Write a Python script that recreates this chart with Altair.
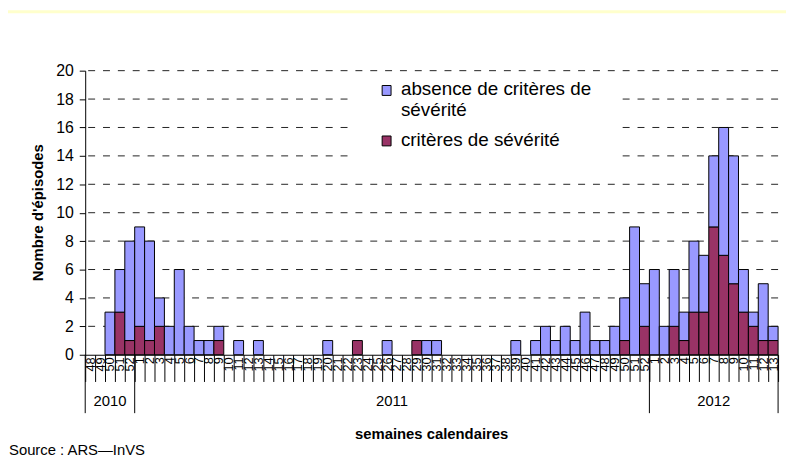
import altair as alt
import pandas as pd

# ---------------- data ----------------
weeks_2010 = [48, 49, 50, 51, 52]
weeks_2011 = list(range(1, 53))
weeks_2012 = list(range(1, 14))

severe_2010 = [0, 0, 0, 3, 1]
nonsevere_2010 = [0, 0, 3, 3, 7]

severe_2011 = [2, 1, 2, 0, 0, 0, 0, 0, 1, 0,
               0, 0, 0, 0, 0, 0, 0, 0, 0, 0,
               0, 0, 1, 0, 0, 0, 0, 0, 1, 0,
               0, 0, 0, 0, 0, 0, 0, 0, 0, 0,
               0, 0, 0, 0, 0, 0, 0, 0, 0, 1,
               0, 2]
nonsevere_2011 = [7, 7, 2, 2, 6, 2, 1, 1, 1, 0,
                  1, 0, 1, 0, 0, 0, 0, 0, 0, 1,
                  0, 0, 0, 0, 0, 1, 0, 0, 0, 1,
                  1, 0, 0, 0, 0, 0, 0, 0, 1, 0,
                  1, 2, 1, 2, 1, 3, 1, 1, 2, 3,
                  9, 3]

severe_2012 = [0, 0, 2, 1, 3, 3, 9, 7, 5, 3, 2, 1, 1]
nonsevere_2012 = [6, 2, 4, 2, 5, 4, 5, 9, 9, 3, 1, 4, 1]

series_names = ["absence de critères de sévérité", "critères de sévérité"]
series_colors = ["#9999FF", "#993366"]
y_ticks = [0, 2, 4, 6, 8, 10, 12, 14, 16, 18, 20]
year_labels = ["2010", "2011", "2012"]
x_title = "semaines calendaires"
y_title = "Nombre d'épisodes"
source_text = "Source : ARS\u2014InVS"

# ---------------- build table ----------------
groups = [
    (2010, weeks_2010, severe_2010, nonsevere_2010),
    (2011, weeks_2011, severe_2011, nonsevere_2011),
    (2012, weeks_2012, severe_2012, nonsevere_2012),
]
keys = []
rows = []
year_first = []
for year, weeks, sev, non in groups:
    year_first.append(f"{year}-{weeks[0]}")
    for w, s, n in zip(weeks, sev, non):
        k = f"{year}-{w}"
        keys.append(k)
        rows.append({"key": k, "series": series_names[1], "value": s, "ord": 0})
        rows.append({"key": k, "series": series_names[0], "value": n, "ord": 1})
df = pd.DataFrame(rows)
last_key = keys[-1]

W, H = 700, 287
FONT = "Liberation Sans"

xscale = alt.Scale(domain=keys, paddingInner=0, paddingOuter=0)
yscale = alt.Scale(domain=[0, 20], nice=False)
cscale = alt.Scale(domain=series_names, range=series_colors)

xaxis = alt.Axis(
    title=None, labelExpr="split(datum.value, '-')[1]", labelAngle=270,
    labelFontSize=13, labelFont=FONT, labelColor="black",
    tickBand="extent", tickSize=27, tickColor="black", domainColor="black",
    labelPadding=-25, labelOverlap=False, grid=False, zindex=1,
)
yaxis = alt.Axis(
    values=y_ticks, title=None, labelFontSize=16, labelFont=FONT,
    labelColor="black", tickSize=6, labelPadding=6, tickColor="black",
    domainColor="black", grid=False, zindex=1,
)

one = pd.DataFrame({"a": [0]})

strip = alt.Chart(one).mark_rect(color="#FFFFCC").encode(
    x=alt.value(-78), x2=alt.value(W + 8), y=alt.value(-61), y2=alt.value(-58)
)

grid = alt.Chart(pd.DataFrame({"value": y_ticks[1:]})).mark_rule(
    color="#222222", strokeDash=[7, 8], strokeWidth=1
).encode(y=alt.Y("value:Q", scale=yscale, axis=yaxis))

bars = alt.Chart(df).transform_filter("datum.value > 0").mark_bar().encode(
    x=alt.X("key:N", scale=xscale, axis=xaxis),
    y=alt.Y("value:Q", stack="zero", scale=yscale, axis=yaxis),
    color=alt.Color("series:N", scale=cscale, legend=None),
    stroke=alt.value("black"),
    strokeWidth=alt.value(1),
    order=alt.Order("ord:Q"),
)

# ---------------- legend ----------------
leg_box = alt.Chart(one).mark_rect(fill="white").encode(
    x=alt.value(271), x2=alt.value(536), y=alt.value(3), y2=alt.value(99)
)
leg_sq1 = alt.Chart(pd.DataFrame({"series": [series_names[0]]})).mark_rect().encode(
    x=alt.value(300), x2=alt.value(309), y=alt.value(15), y2=alt.value(25),
    color=alt.Color("series:N", scale=cscale, legend=None),
    stroke=alt.value("black"), strokeWidth=alt.value(1),
)
leg_sq2 = alt.Chart(pd.DataFrame({"series": [series_names[1]]})).mark_rect().encode(
    x=alt.value(300), x2=alt.value(309), y=alt.value(66), y2=alt.value(76),
    color=alt.Color("series:N", scale=cscale, legend=None),
    stroke=alt.value("black"), strokeWidth=alt.value(1),
)
wrapped0 = series_names[0].rsplit(" ", 1)
leg_t1 = alt.Chart(one).mark_text(
    align="left", baseline="alphabetic", fontSize=19, font=FONT, color="black",
    lineBreak="\n", lineHeight=21,
).encode(x=alt.value(319), y=alt.value(25), text=alt.value(wrapped0[0] + "\n" + wrapped0[1]))
leg_t2 = alt.Chart(one).mark_text(
    align="left", baseline="alphabetic", fontSize=19, font=FONT, color="black"
).encode(x=alt.value(319), y=alt.value(76), text=alt.value(series_names[1]))

# ---------------- year grouping row ----------------
year_rules = alt.Chart(pd.DataFrame({"key": year_first})).mark_rule(color="black").encode(
    x=alt.X("key:N", scale=xscale, bandPosition=0, axis=xaxis),
    y=alt.value(H), y2=alt.value(H + 59),
)
end_rule = alt.Chart(pd.DataFrame({"key": [last_key]})).mark_rule(color="black").encode(
    x=alt.X("key:N", scale=xscale, bandPosition=1, axis=xaxis),
    y=alt.value(H), y2=alt.value(H + 59),
)
mid_a = pd.DataFrame({
    "key": [f"2010-{weeks_2010[len(weeks_2010) // 2]}", f"2012-{weeks_2012[len(weeks_2012) // 2]}"],
    "t": [year_labels[0], year_labels[2]],
})
mid_b = pd.DataFrame({"key": [f"2011-{weeks_2011[len(weeks_2011) // 2]}"], "t": [year_labels[1]]})
year_text_a = alt.Chart(mid_a).mark_text(
    fontSize=15, font=FONT, color="black", baseline="middle"
).encode(x=alt.X("key:N", scale=xscale, bandPosition=0.5, axis=xaxis), y=alt.value(H + 47), text="t:N")
year_text_b = alt.Chart(mid_b).mark_text(
    fontSize=15, font=FONT, color="black", baseline="middle"
).encode(x=alt.X("key:N", scale=xscale, bandPosition=0, axis=xaxis), y=alt.value(H + 47), text="t:N")

# ---------------- titles ----------------
xt = alt.Chart(one).mark_text(
    fontSize=15, font=FONT, fontWeight="bold", color="black", baseline="middle"
).encode(x=alt.value(W / 2), y=alt.value(H + 80), text=alt.value(x_title))
yt = alt.Chart(one).mark_text(
    fontSize=15, font=FONT, fontWeight="bold", color="black", baseline="middle", angle=270
).encode(x=alt.value(-48), y=alt.value(H / 2), text=alt.value(y_title))
src = alt.Chart(one).mark_text(
    fontSize=15, font=FONT, color="black", align="left", baseline="alphabetic"
).encode(x=alt.value(-77), y=alt.value(H + 101), text=alt.value(source_text))

chart = alt.layer(
    strip, grid, bars, leg_box, leg_sq1, leg_sq2, leg_t1, leg_t2,
    year_rules, end_rule, year_text_a, year_text_b, xt, yt, src,
).properties(
    width=W, height=H,
    padding={"left": 78, "top": 61, "right": 8, "bottom": 101},
    autosize=alt.AutoSizeParams(type="none"),
    background="white",
).configure_view(stroke=None)

chart.save("out.html", embed_options={"renderer": "svg", "actions": False})
